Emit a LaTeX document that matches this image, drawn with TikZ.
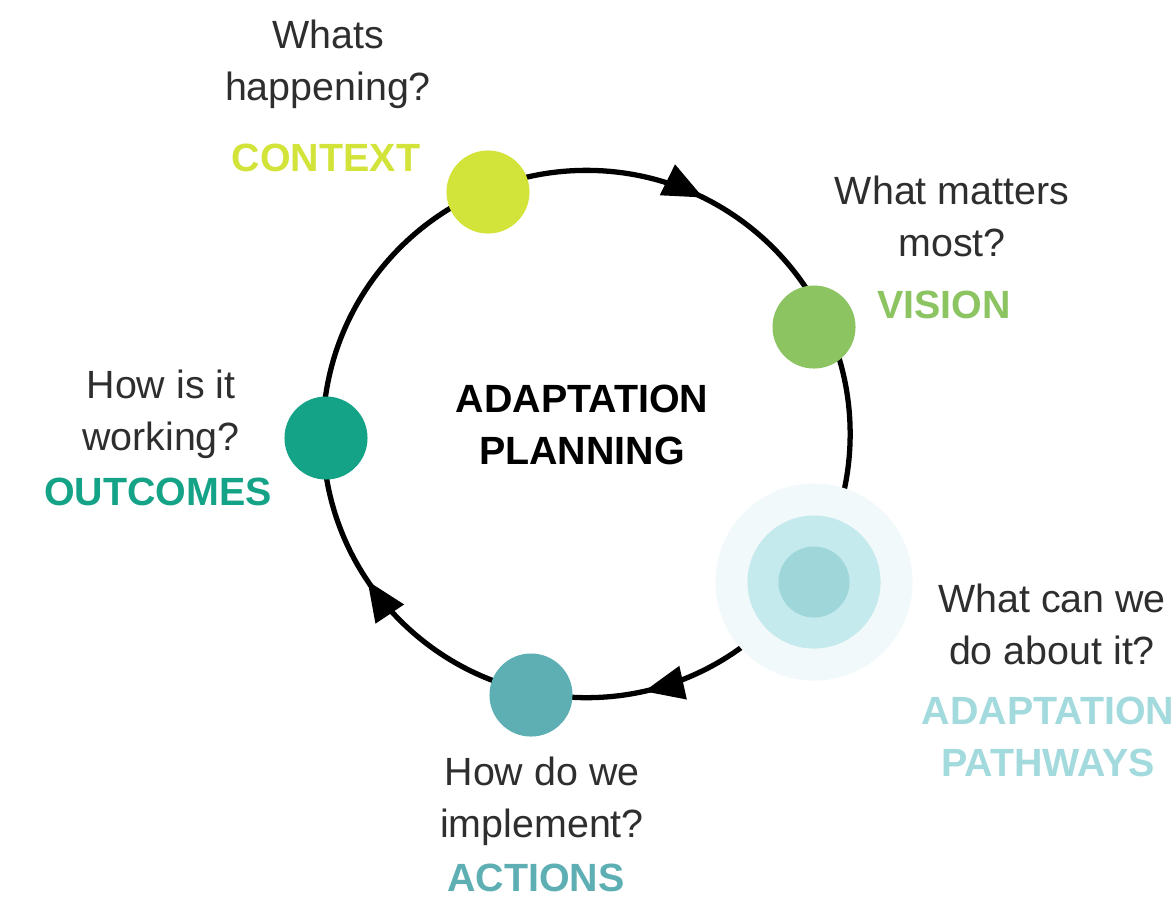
\documentclass[tikz,border=0pt]{standalone}
\usepackage{fontspec}
\setmainfont{Liberation Sans}
\usetikzlibrary{arrows.meta,decorations.markings}
\definecolor{ctxcol}{HTML}{D2E33A}
\definecolor{viscol}{HTML}{8CC462}
\definecolor{outcol}{HTML}{14A386}
\definecolor{actcol}{HTML}{5DAFB3}
\definecolor{pathtxt}{HTML}{A3DADD}
\definecolor{haloA}{HTML}{F1F9FA}
\definecolor{haloB}{HTML}{C4EAEE}
\definecolor{haloC}{HTML}{9ED6DA}
\definecolor{qcol}{HTML}{2E2E2E}
\tikzset{
  dot/.style={circle, inner sep=0pt, draw=none, minimum size=0.83cm},
  question/.style={align=center, text=qcol, font=\fontsize{11.2}{14.8}\selectfont, inner sep=0pt},
  label/.style={align=center, font=\fontsize{11.2}{14.8}\selectfont\bfseries, inner sep=0pt},
}
\begin{document}
\begin{tikzpicture}[x=0.01cm,y=-0.01cm]
\useasboundingbox (0,0) rectangle (1173,899);
\fill[white] (0,0) rectangle (1173,899);
\coordinate (c) at (586.5,434);
% ring with arrows (clockwise)
\draw[line width=1.5pt, postaction=decorate,
  decoration={markings,
    mark=at position 0.215 with {\arrow{Triangle[length=0.40cm,width=0.33cm]}},
    mark=at position 0.406 with {\arrow{Triangle[length=0.40cm,width=0.33cm]}},
    mark=at position 0.823 with {\arrow{Triangle[length=0.40cm,width=0.33cm]}}}]
  (c) ++(0:2.635cm) arc[start angle=0, end angle=-360, radius=2.635cm];
% stage dots
\node[dot, fill=ctxcol] (context) at (488,192) {};
\node[dot, fill=viscol] (vision) at (814,327) {};
\node[dot, fill=outcol] (outcomes) at (326,438) {};
\node[dot, fill=actcol] (actions) at (531,695) {};
\node[circle, inner sep=0pt, minimum size=1.97cm, fill=haloA] (halo) at (814,582) {};
\node[circle, inner sep=0pt, minimum size=1.33cm, fill=haloB] (pathmid) at (halo) {};
\node[dot, fill=haloC, minimum size=0.71cm] (pathways) at (halo) {};
% texts
\node[question] (qctx) at (328,64) {Whats\\happening?};
\node[label, text=ctxcol] (lctx) at (326,158) {CONTEXT};
\node[question] (qvis) at (952,216) {What matters\\most?};
\node[label, text=viscol] (lvis) at (944,305) {VISION};
\node[question] (qout) at (161,414) {How is it\\working?};
\node[label, text=outcol] (lout) at (158,492) {OUTCOMES};
\node[label, text=black] (title) at (582,425) {ADAPTATION\\PLANNING};
\node[question] (qpath) at (1052,624) {What can we\\do about it?};
\node[label, text=pathtxt] (lpath) at (1048,737) {ADAPTATION\\PATHWAYS};
\node[question] (qact) at (542,801) {How do we\\implement?};
\node[label, text=actcol] (lact) at (536,878) {ACTIONS};
\end{tikzpicture}
\end{document}
